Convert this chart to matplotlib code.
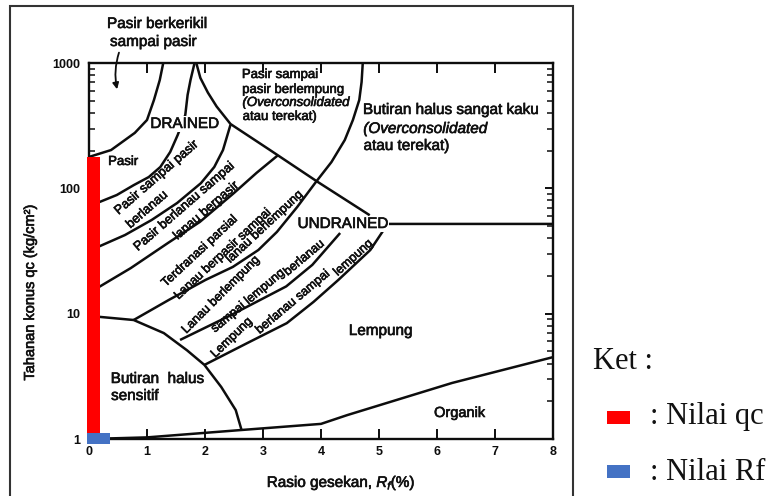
import matplotlib
matplotlib.use("Agg")
import matplotlib.pyplot as plt
import matplotlib.patheffects as pe
from matplotlib.patches import Rectangle
from matplotlib.ticker import LogLocator, NullFormatter, FixedLocator

plt.rcParams['font.family'] = ['Liberation Sans', 'DejaVu Sans']
plt.rcParams['mathtext.fontset'] = 'custom'
plt.rcParams['mathtext.it'] = 'Liberation Sans:italic'
plt.rcParams['mathtext.rm'] = 'Liberation Sans'

# ---------------- data (Rf in %, qc in kg/cm2) ----------------
x_ticks = [0, 1, 2, 3, 4, 5, 6, 7, 8]
y_ticks = [1, 10, 100, 1000]
y_tick_labels = ['1', '10', '100', '1000']

gravel_rf = [0, 0.38, 0.79, 1.0, 1.12, 1.22, 1.28]
gravel_qc = [178, 202, 277, 351, 507, 731, 1000]

sand_rf = [1.82, 1.75, 1.70, 1.66, 1.53, 1.40, 1.23, 1.03, 0.77, 0.48, 0.14, 0]
sand_qc = [1000, 731, 556, 385, 267, 195, 148, 123, 106, 88.5, 76.4, 73]

siltysand_rf = [2.44, 2.31, 2.16, 1.93, 1.52, 1.08, 0.62, 0.15, 0]
siltysand_qc = [322, 202, 148, 110, 76.4, 55.9, 42.4, 34, 32]

sandysilt_rf = [3.26, 2.89, 2.50, 1.91, 1.36, 0.72, 0.17, 0]
sandysilt_qc = [184, 133, 91.8, 53.9, 36.6, 23.1, 16.3, 15.3]

drained_rf = [1.85, 1.92, 2.05, 2.20, 2.44, 3.10, 3.95, 4.84]
drained_qc = [1000, 760, 580, 450, 326, 205, 112, 61]

stiff_rf = [4.72, 4.70, 4.66, 4.55, 4.41, 4.18, 3.91, 3.59, 3.24, 2.92, 2.48, 2.01, 1.38, 0.77]
stiff_qc = [1000, 706, 507, 351, 243, 162, 112, 71, 44.9, 32.2, 23.6, 18.6, 12.9, 8.9]

clayeysilt_rf = [1.57, 2.46, 3.40, 3.85, 4.33]
clayeysilt_qc = [6.17, 9.8, 16.5, 24.5, 44.0]

siltyclay_rf = [1.99, 2.73, 3.41, 3.87, 4.30, 4.85, 5.15, 8.0]
siltyclay_qc = [3.9, 5.83, 8.4, 12.4, 18.6, 32.2, 52, 52]

sensitive_rf = [0, 0.77, 1.29, 1.69, 1.99, 2.28, 2.53, 2.63]
sensitive_qc = [9.6, 8.9, 7.0, 5.1, 3.9, 2.6, 1.70, 1.18]

organic_rf = [0, 1.0, 2.63, 4.0, 4.45, 6.26, 8.0]
organic_qc = [1.0, 1.03, 1.18, 1.32, 1.55, 2.8, 4.5]

qc_value = 178    # Nilai qc (red bar top)
rf_value = 0.40   # Nilai Rf (blue bar width)

# ---------------- figure ----------------
W, H = 778, 496
fig = plt.figure(figsize=(W / 100, H / 100), dpi=100)
fig.patch.set_facecolor('white')
AX_L, AX_R, AX_T, AX_B = 89, 553, 63, 439
ax = fig.add_axes([AX_L / W, 1 - AX_B / H, (AX_R - AX_L) / W, (AX_B - AX_T) / H])

def F(px, py):
    return px / W, 1 - py / H

def D(px, py):
    # pixel in reference -> data coords (corrects slight scan skew)
    x0 = 93 - 8 * (py - 63) / 376
    x8 = 555 - 5 * (py - 63) / 376
    return 8 * (px - x0) / (x8 - x0), 10 ** ((439 - py) / 125.33)

LC = '#0d0d0d'
LW = 1.8
for xs, ys in [(gravel_rf, gravel_qc), (sand_rf, sand_qc), (siltysand_rf, siltysand_qc),
               (sandysilt_rf, sandysilt_qc), (drained_rf, drained_qc), (stiff_rf, stiff_qc),
               (clayeysilt_rf, clayeysilt_qc), (siltyclay_rf, siltyclay_qc),
               (sensitive_rf, sensitive_qc), (organic_rf, organic_qc)]:
    ax.plot(xs, ys, color=LC, lw=LW, solid_capstyle='butt', solid_joinstyle='round', zorder=2)

# measured values
ax.bar(-0.03, qc_value - 1, bottom=1, width=0.22, align='edge', color='#ff0000',
       clip_on=False, zorder=6)
ax.bar(-0.04, 0.21, bottom=0.91, width=rf_value, align='edge', color='#4472c4',
       clip_on=False, zorder=7)

ax.set_xlim(0, 8)
ax.set_yscale('log')
ax.set_ylim(1, 1000)
ax.xaxis.set_major_locator(FixedLocator(x_ticks))
ax.set_xticklabels([str(v) for v in x_ticks])
ax.yaxis.set_major_locator(FixedLocator(y_ticks))
ax.set_yticklabels(y_tick_labels)
ax.yaxis.set_minor_locator(LogLocator(base=10, subs=range(2, 10)))
ax.yaxis.set_minor_formatter(NullFormatter())
ax.xaxis.set_minor_locator(FixedLocator([]))
ax.tick_params(which='both', direction='in', top=True, right=True,
               labeltop=False, labelright=False, color=LC)
ax.tick_params(which='major', length=6, width=1.4)
ax.tick_params(which='minor', length=4.5, width=1.1)
ax.tick_params(axis='x', which='major', length=7, pad=5)
ax.tick_params(axis='y', pad=6)
for lab in ax.get_xticklabels() + ax.get_yticklabels():
    lab.set_fontweight('bold')
    lab.set_fontsize(9)
    lab.set_color(LC)
for s in ax.spines.values():
    s.set_linewidth(1.7)
    s.set_color(LC)

TC = '#101010'
heavy = [pe.withStroke(linewidth=0.45, foreground=TC)]

def t(s, px, py, size=9.5, rot=0, ha='center', style='normal', bbox=None):
    x, y = D(px, py)
    ax.text(x, y, s, fontsize=size, rotation=rot, ha=ha, va='center',
            rotation_mode='anchor', style=style, color=TC, zorder=4, bbox=bbox,
            path_effects=heavy)

white = dict(facecolor='white', edgecolor='none', pad=0.5)
t('DRAINED', 187, 124, 11, bbox=white)
t('UNDRAINED', 343, 224, 11, bbox=white)
t('Pasir', 125, 162, 9.5)
t('Lempung', 379, 331, 11)
t('Organik', 457, 413, 10.5)
t('Butiran  halus', 108, 379, 11, ha='left')
t('sensitif', 108, 396, 11, ha='left')

t('Pasir sampai', 245, 75, 9.5, ha='left')
t('pasir berlempung', 245, 90, 9.5, ha='left')
t('(Overconsolidated', 245, 103, 9.5, ha='left', style='italic')
t('atau terekat)', 245, 117, 9.5, ha='left')

t('Butiran halus sangat kaku', 365, 110, 11, ha='left')
t('(Overconsolidated', 365, 129, 11, ha='left', style='italic')
t('atau terekat)', 365, 146, 11, ha='left')

RS = 9.0
t('Pasir sampai pasir', 158, 178, 9.3, rot=41)
t('berlanau', 148, 210, 9.3, rot=41)
t('Pasir berlanau sampai', 185, 207, 9.3, rot=41)
t('lanau berpasir', 207, 211, 9.3, rot=41)
t('Terdranasi parsial', 200, 251, RS, rot=43)
t('Lanau berpasir sampai', 223, 254, RS, rot=43)
t('lanau berlempung', 265, 227, RS, rot=43)
t('Lanau berlempung', 220, 295, RS, rot=45)
t('sampai lempung', 247, 301, RS, rot=40)
t('berlanau', 304, 258, RS, rot=40)
t('Lempung', 230, 338, RS, rot=44)
t('berlanau sampai', 292, 302, RS, rot=40)
t('lempung', 353, 258, RS, rot=42)

# label above the chart with arrow
fig.text(*F(107, 24), 'Pasir berkerikil', fontsize=11, ha='left', va='center', color=TC,
         path_effects=heavy)
fig.text(*F(110, 42), 'sampai pasir', fontsize=11, ha='left', va='center', color=TC,
         path_effects=heavy)
ax.annotate('', xy=D(121, 92), xytext=D(124, 50), annotation_clip=False,
            arrowprops=dict(arrowstyle='-|>', color=LC, lw=1.3, mutation_scale=9,
                            connectionstyle='arc3,rad=0.15'))

# axis titles
fig.text(*F(30, 292), 'Tahanan konus qc (kg/cm\u00b2)', rotation=90, fontsize=10.5,
         ha='center', va='center', color=TC, path_effects=heavy)
fig.text(*F(341, 483), r'Rasio gesekan, $R_f$(%)', fontsize=11, ha='center',
         va='center', color=TC, path_effects=heavy)

# outer frame of the scanned chart
fig.patches.append(Rectangle(F(10, 515), (573 - 10) / W, (515 - 6) / H,
                             transform=fig.transFigure, fill=False, lw=1.5,
                             ec='#333333', zorder=0))

# legend
serif = ['Liberation Serif', 'DejaVu Serif']
fig.text(*F(593, 369), 'Ket :', fontsize=22, family=serif, ha='left', va='baseline', color='#111')
fig.text(*F(650, 424), ': Nilai qc', fontsize=22, family=serif, ha='left', va='baseline', color='#111')
fig.text(*F(650, 480), ': Nilai Rf', fontsize=22, family=serif, ha='left', va='baseline', color='#111')
fig.patches.append(Rectangle(F(607, 424), 23 / W, 13 / H, transform=fig.transFigure,
                             color='#ff0000', lw=0))
fig.patches.append(Rectangle(F(607, 478), 23 / W, 13 / H, transform=fig.transFigure,
                             color='#4472c4', lw=0))

fig.savefig('out.png', dpi=100)
